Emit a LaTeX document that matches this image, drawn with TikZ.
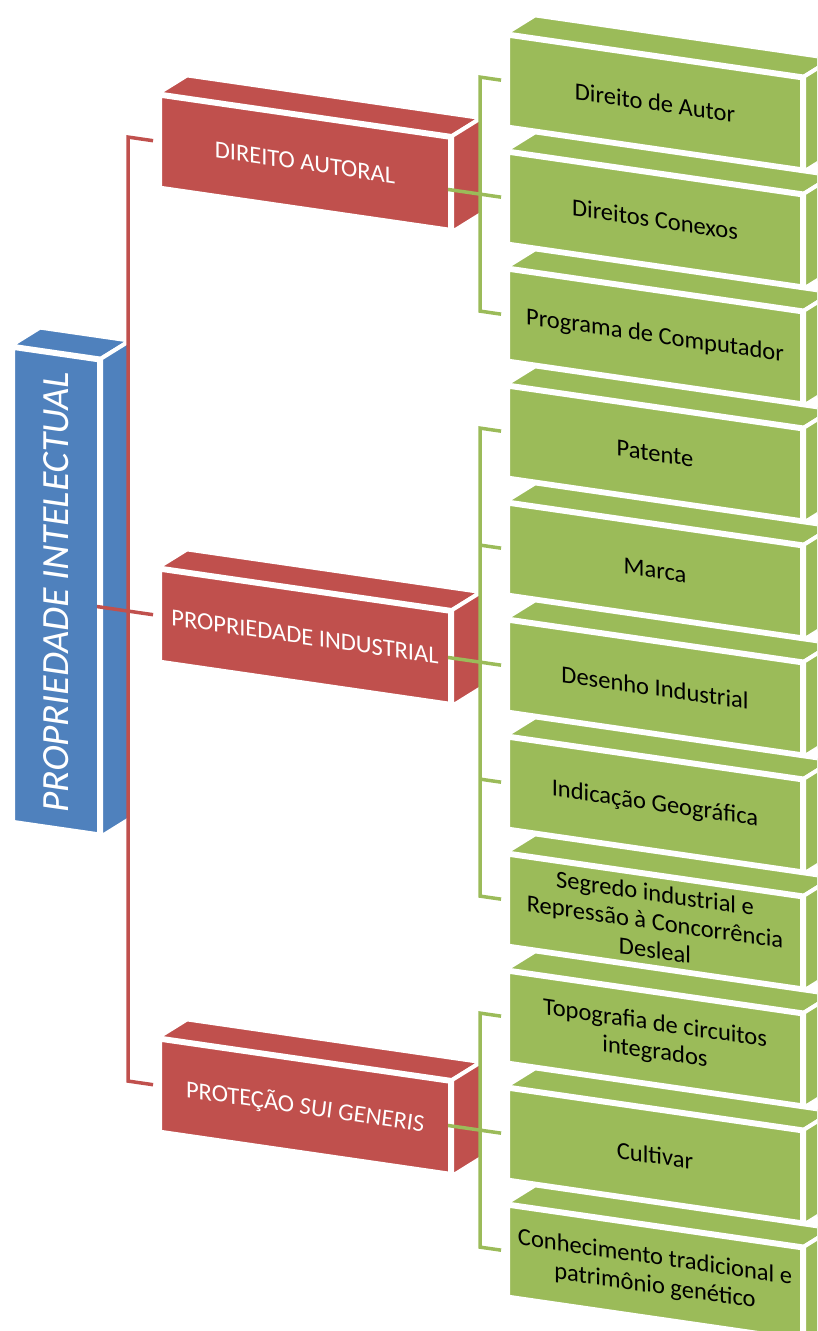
\documentclass[tikz,border=0pt]{standalone}
\usepackage{fontspec}
\setmainfont{Carlito}
\usetikzlibrary{calc}

\definecolor{piblue}{HTML}{4F81BD}
\definecolor{pired}{HTML}{C0504D}
\definecolor{pigreen}{HTML}{9BBB59}

\tikzset{
  face/.style={draw=white, line width=4pt, line join=miter},
  rootbox/.style={face, fill=piblue, rotate=90, minimum width=474pt, minimum height=86pt,
    inner sep=0pt, text=white, font=\fontsize{38.5}{40}\selectfont},
  groupbox/.style={face, fill=pired, minimum width=290pt, minimum height=92pt,
    inner sep=0pt, text=white, align=center, font=\fontsize{24.5}{28.5}\selectfont},
  leafbox/.style={face, fill=pigreen, minimum width=294pt, minimum height=91pt,
    inner sep=0pt, text=black, align=center, font=\fontsize{24.5}{28.5}\selectfont},
  rline/.style={draw=pired, line width=3.5pt, line join=miter},
  gline/.style={draw=pigreen, line width=3.5pt, line join=miter},
}

% top and side faces of an extruded box: colour, front top-left, front top-right, front bottom-right
\newcommand\boxfaces[4]{%
  \path[face, fill=#1] (#2) -- (#3) -- ($(#3)+(29,-18)$) -- ($(#2)+(29,-18)$) -- cycle;
  \path[face, fill=#1] (#3) -- (#4) -- ($(#4)+(29,-18)$) -- ($(#3)+(29,-18)$) -- cycle;
}

\begin{document}
\begin{tikzpicture}[x=1pt, y=-1pt]
\useasboundingbox (0,0) rectangle (817,1331);
\clip (0,0) rectangle (817,1331);

\begin{scope}[yslant=-0.145, transform shape]
  % root
  \node[rootbox] (B) at (56,583) {PROPRIEDADE INTELECTUAL};

  % groups
  \node[groupbox] (r1) at (305,118.5) {DIREITO AUTORAL};
  \node[groupbox] (r2) at (305,592.5) {PROPRIEDADE INDUSTRIAL};
  \node[groupbox] (r3) at (305,1062.5) {PROTEÇÃO \textit{SUI GENERIS}};

  % leaves
  \node[leafbox] (g0)  at (655,7.5)    {Direito de Autor};
  \node[leafbox] (g1)  at (655,124.5)  {Direitos Conexos};
  \node[leafbox] (g2)  at (655,241.5)  {Programa de Computador};
  \node[leafbox] (g3)  at (655,358.5)  {Patente};
  \node[leafbox] (g4)  at (655,475.5)  {Marca};
  \node[leafbox] (g5)  at (655,592.5)  {Desenho Industrial};
  \node[leafbox] (g6)  at (655,709.5)  {Indicação Geográfica};
  \node[leafbox] (g7)  at (655,826.5)  {Segredo industrial e\\Repressão à Concorrência\\Desleal};
  \node[leafbox] (g8)  at (655,943.5)  {Topografia de circuitos\\integrados};
  \node[leafbox] (g9)  at (655,1060.5) {Cultivar};
  \node[leafbox] (g10) at (655,1177.5) {Conhecimento tradicional e\\patrimônio genético};
\end{scope}

% extruded faces
\boxfaces{piblue}{B.north east}{B.south east}{B.south west}
\foreach \n in {r1,r2,r3}{\boxfaces{pired}{\n.north west}{\n.north east}{\n.south east}}
\foreach \n in {g0,g1,g2,g3,g4,g5,g6,g7,g8,g9,g10}{\boxfaces{pigreen}{\n.north west}{\n.north east}{\n.south east}}

\begin{scope}[yslant=-0.145]
  % root to groups
  \coordinate (rt) at ($(r1.west)+(-30,0)$);
  \coordinate (rb) at ($(r3.west)+(-30,0)$);
  \coordinate (bj) at ($(r2.west)+(-61,0)$);
  \draw[rline, shorten <=5pt, shorten >=5pt] (r1.west) -- (rt) -- (rb) -- (r3.west);
  \draw[rline, shorten >=5pt] (bj) -- (r2.west);

  % DIREITO AUTORAL
  \coordinate (a0) at ($(g0.west)+(-26,0)$);
  \coordinate (a2) at ($(g2.west)+(-26,0)$);
  \coordinate (aj) at ($(g1.west)+(-58,0)$);
  \draw[gline, shorten <=5pt, shorten >=5pt] (g0.west) -- (a0) -- (a2) -- (g2.west);
  \draw[gline, shorten >=5pt] (aj) -- (g1.west);

  % PROPRIEDADE INDUSTRIAL
  \coordinate (p3) at ($(g3.west)+(-26,0)$);
  \coordinate (p7) at ($(g7.west)+(-26,0)$);
  \coordinate (p4) at ($(g4.west)+(-26,0)$);
  \coordinate (p6) at ($(g6.west)+(-26,0)$);
  \coordinate (pj) at ($(g5.west)+(-58,0)$);
  \draw[gline, shorten <=5pt, shorten >=5pt] (g3.west) -- (p3) -- (p7) -- (g7.west);
  \draw[gline, shorten >=5pt] (p4) -- (g4.west);
  \draw[gline, shorten >=5pt] (p6) -- (g6.west);
  \draw[gline, shorten >=5pt] (pj) -- (g5.west);

  % PROTECAO SUI GENERIS
  \coordinate (s8) at ($(g8.west)+(-26,0)$);
  \coordinate (s10) at ($(g10.west)+(-26,0)$);
  \coordinate (sj) at ($(g9.west)+(-58,0)$);
  \draw[gline, shorten <=5pt, shorten >=5pt] (g8.west) -- (s8) -- (s10) -- (g10.west);
  \draw[gline, shorten >=5pt] (sj) -- (g9.west);
\end{scope}
\end{tikzpicture}
\end{document}
